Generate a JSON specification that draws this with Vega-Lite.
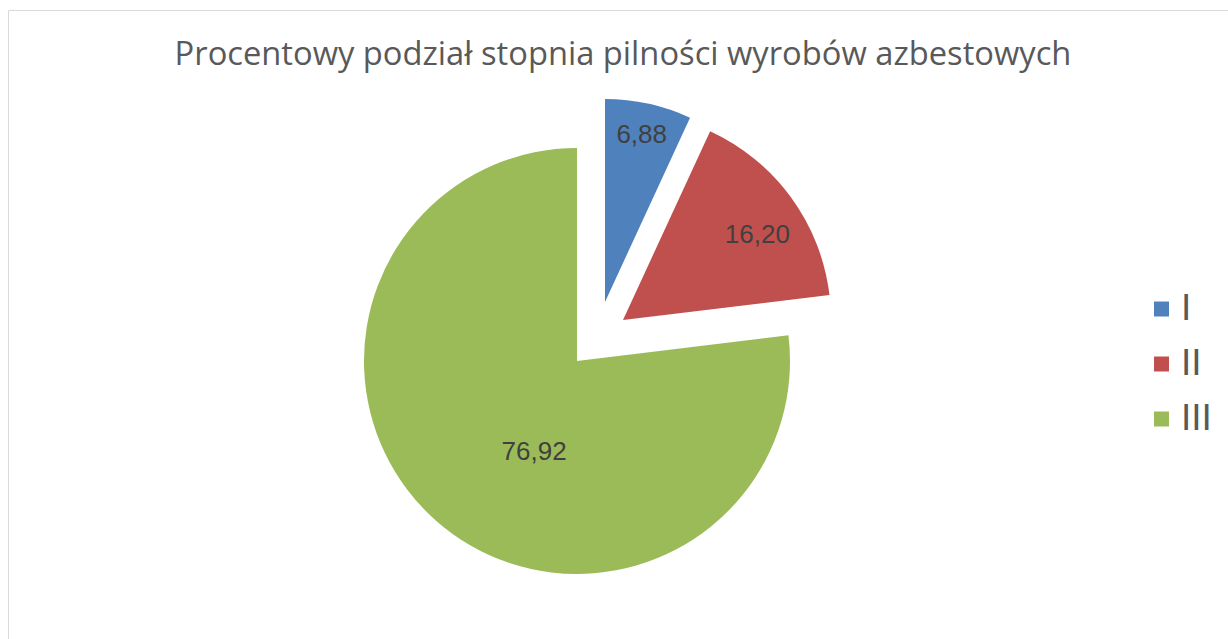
{
  "$schema": "https://vega.github.io/schema/vega-lite/v6.json",
  "width": 1220,
  "height": 629,
  "autosize": {"type": "none"},
  "padding": {"left": 8, "top": 10, "right": 0, "bottom": 0},
  "background": "white",
  "view": {"stroke": "#d9d9d9", "strokeWidth": 1, "fill": "white"},
  "title": {
    "text": "Procentowy podział stopnia pilności wyrobów azbestowych",
    "anchor": "middle",
    "orient": "top",
    "baseline": "alphabetic",
    "offset": 0,
    "dy": 88,
    "dx": 5,
    "font": "Open Sans",
    "fontSize": 32.7,
    "fontWeight": "normal",
    "color": "#595959"
  },
  "data": {
    "values": [
      {"k": "I", "v": 6.88},
      {"k": "II", "v": 16.20},
      {"k": "III", "v": 76.92}
    ]
  },
  "transform": [
    {"stack": "v", "groupby": [], "sort": [{"field": "k", "order": "ascending"}], "as": ["s0", "s1"]},
    {"calculate": "(datum.s0 + datum.s1) / 2", "as": "mid"}
  ],
  "encoding": {
    "color": {
      "field": "k",
      "type": "nominal",
      "scale": {"domain": ["I", "II", "III"], "range": ["#4F81BD", "#C0504D", "#9BBB59"]},
      "legend": {"title": null}
    }
  },
  "layer": [
    {
      "transform": [{"filter": "datum.k == 'III'"}],
      "mark": {"type": "arc", "outerRadius": 213, "xOffset": -41, "yOffset": 36.5},
      "encoding": {
        "theta": {"field": "s0", "type": "quantitative", "stack": null, "scale": {"domain": [0, 100], "range": [0, 6.283185307]}},
        "theta2": {"field": "s1"}
      }
    },
    {
      "transform": [{"filter": "datum.k == 'I'"}],
      "mark": {"type": "arc", "outerRadius": 203, "xOffset": -13, "yOffset": -22.5},
      "encoding": {
        "theta": {"field": "s0", "type": "quantitative", "stack": null},
        "theta2": {"field": "s1"}
      }
    },
    {
      "transform": [{"filter": "datum.k == 'II'"}],
      "mark": {"type": "arc", "outerRadius": 208, "xOffset": 5, "yOffset": -4.5},
      "encoding": {
        "theta": {"field": "s0", "type": "quantitative", "stack": null},
        "theta2": {"field": "s1"}
      }
    },
    {
      "transform": [{"filter": "datum.k == 'I'"}],
      "mark": {"type": "text", "radius": 171, "xOffset": -13, "yOffset": -22.5, "font": "Liberation Sans", "fontSize": 26, "color": "#404040", "baseline": "middle", "align": "center"},
      "encoding": {
        "theta": {"field": "mid", "type": "quantitative", "stack": null},
        "text": {"field": "v", "type": "quantitative", "format": ".2f"},
        "color": {"value": "#404040"}
      }
    },
    {
      "transform": [{"filter": "datum.k == 'II'"}],
      "mark": {"type": "text", "radius": 159, "thetaOffset": 0.065, "xOffset": 5, "yOffset": -4.5, "font": "Liberation Sans", "fontSize": 26, "color": "#404040", "baseline": "middle", "align": "center"},
      "encoding": {
        "theta": {"field": "mid", "type": "quantitative", "stack": null},
        "text": {"field": "v", "type": "quantitative", "format": ".2f"},
        "color": {"value": "#404040"}
      }
    },
    {
      "transform": [{"filter": "datum.k == 'III'"}],
      "mark": {"type": "text", "radius": 101, "thetaOffset": -0.286, "xOffset": -41, "yOffset": 36.5, "font": "Liberation Sans", "fontSize": 26, "color": "#404040", "baseline": "middle", "align": "center"},
      "encoding": {
        "theta": {"field": "mid", "type": "quantitative", "stack": null},
        "text": {"field": "v", "type": "quantitative", "format": ".2f"},
        "color": {"value": "#404040"}
      }
    }
  ],
  "config": {
    "locale": {"number": {"decimal": ",", "thousands": " ", "grouping": [3], "currency": ["", " zł"]}},
    "legend": {
      "orient": "none",
      "legendX": 1135,
      "legendY": 280.5,
      "symbolType": "square",
      "symbolSize": 225,
      "symbolStrokeWidth": 0,
      "symbolOpacity": 1,
      "labelFont": "Liberation Sans",
      "labelFontSize": 37,
      "labelColor": "#595959",
      "labelOffset": 1,
      "rowPadding": 17,
      "padding": 0
    }
  }
}
